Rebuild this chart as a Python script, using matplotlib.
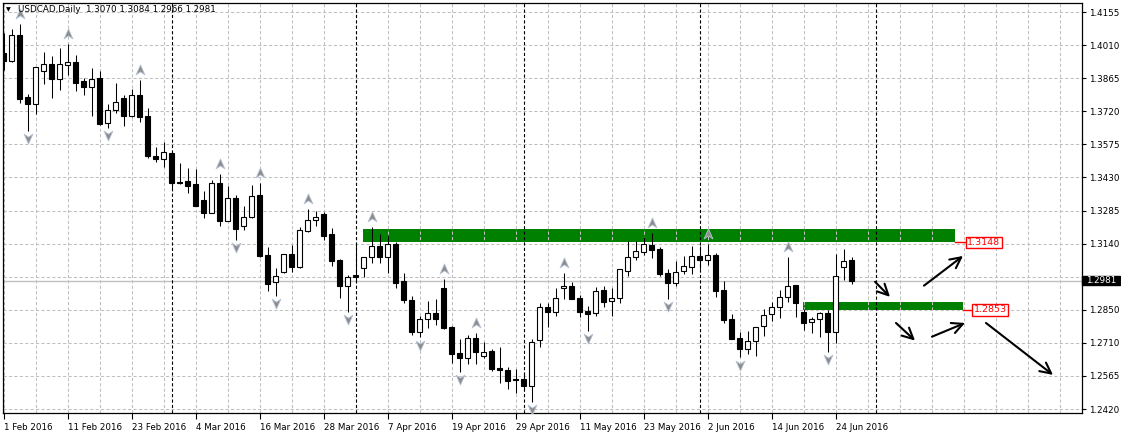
import matplotlib
matplotlib.use('Agg')
import matplotlib.pyplot as plt
import matplotlib.transforms as mtransforms
from matplotlib.patches import Rectangle
from matplotlib.path import Path
import numpy as np

plt.rcParams['font.family'] = ['DejaVu Sans']
plt.rcParams['lines.scale_dashes'] = False

# ---------------- data (USDCAD daily, 1 Feb 2016 .. 28 Jun 2016) ----------------
opens = [
    1.3975, 1.3942, 1.4055, 1.3782, 1.3752, 1.3899, 1.3928, 1.3864, 1.3925, 1.3935,
    1.3853, 1.3829, 1.3865, 1.3669, 1.3725, 1.3779, 1.3702, 1.3792, 1.3701, 1.3526,
    1.3511, 1.3538, 1.3412, 1.3417, 1.3403, 1.3333, 1.3278, 1.3406, 1.3243, 1.3341,
    1.3221, 1.3258, 1.3355, 1.3092, 1.2974, 1.3020, 1.3096, 1.3042, 1.3199, 1.3245,
    1.3271, 1.3185, 1.3071, 1.2959, 1.3004, 1.3038, 1.3083, 1.3132, 1.3083, 1.3141,
    1.2979, 1.2896, 1.2755, 1.2813, 1.2838, 1.2948, 1.2777, 1.2663, 1.2644, 1.2732,
    1.2653, 1.2674, 1.2598, 1.2591, 1.2551, 1.2551, 1.2522, 1.2722, 1.2867, 1.2845,
    1.2948, 1.2958, 1.2904, 1.2848, 1.2838, 1.2940, 1.2891, 1.2904, 1.3025, 1.3086,
    1.3108, 1.3137, 1.3118, 1.3013, 1.2972, 1.3022, 1.3042, 1.3089, 1.3071, 1.3093,
    1.2940, 1.2813, 1.2730, 1.2684, 1.2716, 1.2784, 1.2833, 1.2865, 1.2908, 1.2961,
    1.2844, 1.2799, 1.2812, 1.2840, 1.2755, 1.3042, 1.3070]
highs = [
    1.4062, 1.4079, 1.4101, 1.3797, 1.3916, 1.3979, 1.3963, 1.3998, 1.4015, 1.3967,
    1.3865, 1.3910, 1.3897, 1.3753, 1.3846, 1.3792, 1.3819, 1.3858, 1.3734, 1.3564,
    1.3586, 1.3540, 1.3494, 1.3472, 1.3468, 1.3373, 1.3421, 1.3447, 1.3395, 1.3354,
    1.3307, 1.3399, 1.3406, 1.3127, 1.3036, 1.3098, 1.3137, 1.3214, 1.3293, 1.3285,
    1.3282, 1.3210, 1.3074, 1.3006, 1.3147, 1.3085, 1.3217, 1.3185, 1.3176, 1.3151,
    1.3013, 1.2915, 1.2828, 1.2892, 1.2901, 1.2988, 1.2784, 1.2725, 1.2744, 1.2754,
    1.2712, 1.2682, 1.2692, 1.2602, 1.2596, 1.2576, 1.2726, 1.2882, 1.2882, 1.2948,
    1.3013, 1.2976, 1.2918, 1.2870, 1.2952, 1.2958, 1.2948, 1.3033, 1.3156, 1.3156,
    1.3173, 1.3188, 1.3129, 1.3031, 1.3067, 1.3089, 1.3132, 1.3132, 1.3141, 1.3100,
    1.2981, 1.2835, 1.2758, 1.2761, 1.2779, 1.2856, 1.2889, 1.2940, 1.3083, 1.2963,
    1.2858, 1.2821, 1.2845, 1.2853, 1.3098, 1.3119, 1.3084]
lows = [
    1.3902, 1.3938, 1.3756, 1.3636, 1.3708, 1.3839, 1.3781, 1.3814, 1.3880, 1.3811,
    1.3792, 1.3701, 1.3661, 1.3649, 1.3715, 1.3657, 1.3695, 1.3676, 1.3516, 1.3501,
    1.3479, 1.3377, 1.3403, 1.3365, 1.3307, 1.3255, 1.3275, 1.3220, 1.3240, 1.3159,
    1.3202, 1.3255, 1.3086, 1.2937, 1.2914, 1.3016, 1.3018, 1.3035, 1.3195, 1.3220,
    1.3159, 1.3045, 1.2906, 1.2845, 1.2976, 1.2998, 1.3059, 1.3057, 1.3013, 1.2948,
    1.2882, 1.2744, 1.2733, 1.2775, 1.2787, 1.2770, 1.2620, 1.2583, 1.2615, 1.2615,
    1.2643, 1.2588, 1.2532, 1.2506, 1.2491, 1.2503, 1.2452, 1.2690, 1.2778, 1.2828,
    1.2900, 1.2900, 1.2824, 1.2762, 1.2828, 1.2867, 1.2828, 1.2885, 1.3001, 1.3071,
    1.3093, 1.3081, 1.3001, 1.2901, 1.2958, 1.3010, 1.3010, 1.3032, 1.3049, 1.2911,
    1.2797, 1.2725, 1.2646, 1.2660, 1.2652, 1.2739, 1.2806, 1.2816, 1.2889, 1.2824,
    1.2765, 1.2754, 1.2736, 1.2670, 1.2707, 1.2984, 1.2966]
closes = [
    1.3942, 1.4055, 1.3776, 1.3752, 1.3913, 1.3928, 1.3864, 1.3928, 1.3935, 1.3846,
    1.3829, 1.3861, 1.3667, 1.3727, 1.3762, 1.3702, 1.3791, 1.3698, 1.3526, 1.3511,
    1.3543, 1.3406, 1.3406, 1.3396, 1.3309, 1.3278, 1.3406, 1.3243, 1.3341, 1.3207,
    1.3258, 1.3350, 1.3089, 1.2966, 1.3001, 1.3096, 1.3042, 1.3202, 1.3246, 1.3261,
    1.3176, 1.3068, 1.2959, 1.2998, 1.2998, 1.3083, 1.3132, 1.3086, 1.3140, 1.2969,
    1.2896, 1.2755, 1.2813, 1.2838, 1.2812, 1.2773, 1.2660, 1.2644, 1.2732, 1.2670,
    1.2670, 1.2595, 1.2592, 1.2542, 1.2547, 1.2522, 1.2714, 1.2865, 1.2845, 1.2904,
    1.2956, 1.2902, 1.2845, 1.2837, 1.2936, 1.2889, 1.2904, 1.3031, 1.3086, 1.3109,
    1.3140, 1.3115, 1.3010, 1.2972, 1.3019, 1.3045, 1.3089, 1.3071, 1.3093, 1.2937,
    1.2809, 1.2727, 1.2684, 1.2716, 1.2777, 1.2830, 1.2865, 1.2908, 1.2959, 1.2885,
    1.2797, 1.2812, 1.2838, 1.2755, 1.3001, 1.3066, 1.2981]

x_tick_idx = [0, 8, 16, 24, 32, 40, 48, 56, 64, 72, 80, 88, 96, 104]
x_tick_labels = ['1 Feb 2016', '11 Feb 2016', '23 Feb 2016', '4 Mar 2016', '16 Mar 2016',
                 '28 Mar 2016', '7 Apr 2016', '19 Apr 2016', '29 Apr 2016', '11 May 2016',
                 '23 May 2016', '2 Jun 2016', '14 Jun 2016', '24 Jun 2016']
# the 9th label (1.2995) is hidden behind the last-price box in the reference
y_tick_labels = ['1.2420', '1.2565', '1.2710', '1.2850', '', '1.3140', '1.3285',
                 '1.3430', '1.3575', '1.3720', '1.3865', '1.4010', '1.4155']
month_starts = [21, 44, 65, 87, 109]
up_fractals = [2, 8, 17, 27, 32, 38, 46, 55, 59, 70, 81, 88, 98]
down_fractals = [3, 13, 29, 34, 43, 52, 57, 66, 73, 83, 92, 103]

title_text = 'USDCAD,Daily  1.3070 1.3084 1.2966 1.2981'
last_price = 1.2981

# drawn zones: (start bar, end bar, low price, high price, label)
zone_upper = (44.94, 118.94, 1.3148, 1.3207, '1.3148')
zone_lower = (99.94, 119.94, 1.2853, 1.2888, '1.2853')
zone_label_x = [120.44, 121.3]
# drawn arrows: (bar, price) -> (bar, price)
arrows = [((108.94, 1.2976), (110.81, 1.2910)),
          ((115.06, 1.2959), (119.94, 1.3089)),
          ((111.56, 1.2796), (113.94, 1.2719)),
          ((116.06, 1.2736), (120.19, 1.2796)),
          ((122.81, 1.2796), (131.19, 1.2569))]

# ---------------- figure ----------------
W, H = 1121, 434
fig = plt.figure(figsize=(W / 100, H / 100), dpi=100)
ax_l, ax_r, ax_t, ax_b = 2.5, 1082, 2.5, 413
ax = fig.add_axes([ax_l / W, 1 - ax_b / H, (ax_r - ax_l) / W, (ax_b - ax_t) / H])

y_lo_tick, y_hi_tick = 1.2420, 1.4155
px_per_unit = (409 - 12) / (y_hi_tick - y_lo_tick)
ax.set_ylim(y_lo_tick - (ax_b - 409) / px_per_unit, y_hi_tick + (12 - ax_t) / px_per_unit)
ax.set_xlim((ax_l - 3.5) / 8, (ax_r - 3.5) / 8)

# grid
yticks = np.linspace(y_lo_tick, y_hi_tick, len(y_tick_labels))
grid_kw = dict(color='#c0c0c0', lw=0.75, linestyle=(0, (2.3, 1.6)), zorder=0.8)
for yv in yticks:
    ax.axhline(yv, **grid_kw)
for xv in range(0, 136, 4):
    ax.axvline(xv, **grid_kw)

# zones
for (x0, x1, lo, hi, lab), lx in zip([zone_upper, zone_lower], zone_label_x):
    ax.add_patch(Rectangle((x0, lo), x1 - x0, hi - lo, facecolor='#008000',
                           edgecolor='none', zorder=0.5))
    ax.plot([x1, lx], [lo, lo], color='red', lw=1.0, zorder=4)
    ax.text(lx, lo, lab, color='red', fontsize=6.8, ha='left', va='center', zorder=5,
            bbox=dict(boxstyle='square,pad=0.15', facecolor='white', edgecolor='red', lw=1.0))

# month separators
for m in month_starts:
    ax.axvline(m, color='black', lw=0.8, linestyle=(0, (2.3, 1.6)), zorder=1.0)

# current price line
ax.axhline(last_price, color='#c0c0c0', lw=1.0, zorder=0.9)

# candles
xs = np.arange(len(closes))
ax.vlines(xs, lows, highs, color='black', lw=0.75, zorder=2)
o = np.array(opens); c = np.array(closes)
bottoms = np.minimum(o, c)
heights = np.maximum(np.abs(c - o), 0.0004)
face = ['white' if cc > oo else 'black' for oo, cc in zip(opens, closes)]
ax.bar(xs, heights, bottom=bottoms, width=0.56, color=face, edgecolor='black',
       linewidth=0.8, zorder=2.1)

# fractals
up_path = Path([(0, 1.0), (0.8, -0.8), (0, -0.25), (-0.8, -0.8), (0, 1.0)],
               [Path.MOVETO, Path.LINETO, Path.LINETO, Path.LINETO, Path.CLOSEPOLY])
dn_path = Path([(0, -1.0), (0.8, 0.8), (0, 0.25), (-0.8, 0.8), (0, -1.0)],
               [Path.MOVETO, Path.LINETO, Path.LINETO, Path.LINETO, Path.CLOSEPOLY])
up_tr = ax.transData + mtransforms.ScaledTranslation(0, 0.10, fig.dpi_scale_trans)
dn_tr = ax.transData + mtransforms.ScaledTranslation(0, -0.075, fig.dpi_scale_trans)
ax.plot(up_fractals, [highs[i] for i in up_fractals], linestyle='none', marker=up_path,
        ms=8, mfc='#8c8c8c', mec='#b8c4d8', mew=0.6, transform=up_tr, zorder=3)
ax.plot(down_fractals, [lows[i] for i in down_fractals], linestyle='none', marker=dn_path,
        ms=8, mfc='#8c8c8c', mec='#b8c4d8', mew=0.6, transform=dn_tr, zorder=3)

# arrows
for (s, e) in arrows:
    ax.annotate('', xy=e, xytext=s,
                arrowprops=dict(arrowstyle='->,head_length=0.6,head_width=0.3',
                                color='black', lw=1.5, mutation_scale=13,
                                shrinkA=0, shrinkB=0), zorder=3)

# axes / ticks
for sp in ax.spines.values():
    sp.set_color('black')
    sp.set_linewidth(0.9)
ax.yaxis.tick_right()
ax.set_yticks(yticks)
ax.set_yticklabels(y_tick_labels)
ax.set_xticks(x_tick_idx)
ax.set_xticklabels(x_tick_labels)
ax.tick_params(axis='y', direction='out', length=3, width=0.8, pad=2, labelsize=6.3)
ax.tick_params(axis='x', direction='out', length=4, width=0.8, pad=3, labelsize=6.3)
for lab in ax.get_xticklabels():
    lab.set_horizontalalignment('left')

# last price box on the right scale
btr = mtransforms.blended_transform_factory(ax.transAxes, ax.transData)
bw = 38 / (ax_r - ax_l)
bh = 9.5 / px_per_unit
ax.add_patch(Rectangle((1.0, last_price - bh / 2), bw, bh, transform=btr,
                       facecolor='black', edgecolor='black', clip_on=False, zorder=6))
ax.text(1.0 + bw / 2, last_price, f'{last_price:.4f}', transform=btr, color='white',
        fontsize=6.3, ha='center', va='center', zorder=7, clip_on=False)

# title
fig.text(8 / W, 1 - 9.5 / H, '\u25bc', fontsize=4.5, ha='center', va='center')
fig.text(18 / W, 1 - 10 / H, title_text, fontsize=6.3, ha='left', va='center')

fig.savefig('out.png', dpi=100, facecolor='white')
